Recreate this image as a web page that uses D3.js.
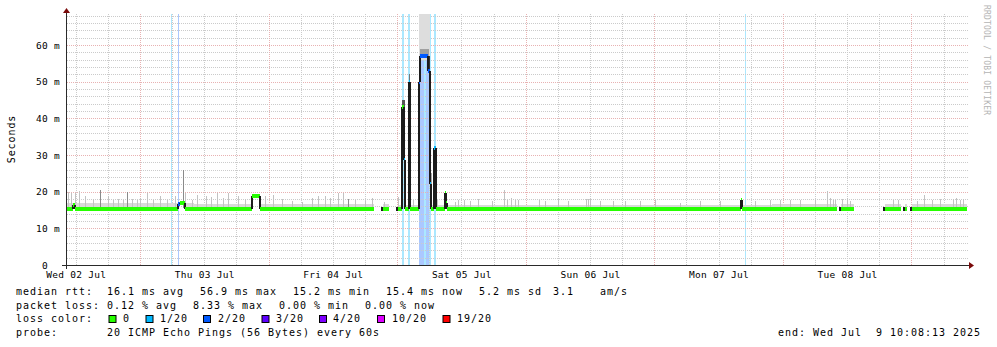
<!DOCTYPE html>
<html>
<head>
<meta charset="utf-8">
<script src="https://cdn.jsdelivr.net/npm/d3@7"></script>
<style>
  body { margin: 0; background: #fff; }
  svg text { font-family: "DejaVu Sans Mono", monospace; white-space: pre; }
</style>
</head>
<body>
<svg id="chart" width="997" height="347"></svg>
<script>
// all times are hours counted from Wed 02 Jul 00:00 (graph time)

// median rtt, stepped: each value holds until the next hour entry, null = no data
var medianHours = [-1.62, -0.45, -0.15, 19.1, 19.4, 20.4, 33.0, 34.4, 55.6, 57.4, 58.5, 60.2,
                   61.0, 61.2, 61.4, 62.2, 62.5, 64.1, 64.3, 65.8, 66.1, 66.4, 66.9, 67.2,
                   68.9, 69.1, 69.3, 124.2, 124.4, 142.1, 142.9, 145.3, 151.1, 154.1, 154.8,
                   155.2, 156.1, 166.4];
var medianMs = [15.2, 16.4, 15.2, 16.6, 17.0, 15.2, 18.8, 15.2, null, 15.2, null, 15.2,
                43, 28.5, 15.2, 50, 15.2, 50, 57, 53, 22, 15.2, 32, 15.2,
                19.5, 17, 15.2, 17.8, 15.2, null, 15.2, null, 15.2, null, 15.2,
                null, 15.2, null];
var medianLoss = [0, 0, 0, 2, 0, 0, 0, 0, 0, 0, 0, 0,
                  0, 1, 0, 1, 0, 2, 2, 2, 1, 0, 1, 0,
                  0, 0, 0, 0, 0, 0, 0, 0, 0, 0, 0,
                  0, 0, 0];

// full height loss background
var lossBandStart = [17.85, 19.25, 60.95, 62.2, 64.1, 65.1, 65.5, 66.1, 66.9, 125.05];
var lossBandEnd   = [18.05, 19.45, 61.4, 62.5, 65.1, 65.5, 66.1, 66.4, 67.2, 125.25];
var lossBandLevel = [1, 2, 1, 1, 2, 1, 2, 1, 1, 1];

// smoke close above the median, per stretch
var smokeBandHours = [-1.62, 22, 34.4, 60, 96, 130];
var smokeBandTop = [16.9, 16.7, 16.5, 16.3, 16.3, 16.6];

// single smoke spikes (top of the smoke), dark = dense smoke
var spikeHours = [-1.37, -0.87, -0.12, 0.68, 1.74, 3.29, 4.54, 6.04, 6.97, 7.9, 8.84, 9.53,
                  10.52, 11.45, 12.0, 13.26, 14.44, 15.74, 17.0, 18.54, 19.98, 20.41, 21.66,
                  22.6, 24.33, 25.26, 26.33, 27.5, 28.44, 30.3, 31.6, 35.34, 36.83, 38.51,
                  40.38, 42.24, 44.11, 45.23, 46.54, 47.47, 48.97, 49.9, 50.83, 52.14, 54.0,
                  55.3, 57.55, 60.16, 62.97, 67.4, 70.8, 71.35, 72.47, 73.59, 75.08, 77.7,
                  80.0, 80.5, 81.26, 82.0, 82.55, 86.47, 87.6, 90.03, 91.9, 95.3, 95.7, 96.0,
                  97.9, 100.3, 102.5, 105.3, 108.2, 112.8, 116.6, 120.3, 126.8, 129.6, 131.5,
                  133.4, 135.2, 138.0, 140.2, 140.8, 141.4, 141.8, 143.0, 144.0, 144.6, 152.6,
                  153.5, 157.1, 158.4, 159.9, 161.4, 163.8, 164.4, 165.1, 165.7];
var spikeTop = [20.0, 19.5, 19.5, 20.3, 18.9, 18.1, 20.5, 18.9, 17.8, 18.0, 17.6, 20.0,
                18.0, 17.8, 18.2, 19.5, 17.8, 18.9, 17.8, 18.9, 26.0, 19.5, 17.8,
                19.2, 18.9, 18.6, 19.5, 18.4, 19.5, 18.9, 18.1, 18.9, 19.2, 18.1,
                17.5, 17.1, 18.4, 18.9, 18.9, 18.4, 19.5, 19.5, 18.1, 17.8, 17.5,
                18.4, 17.3, 18.5, 17.8, 17.8, 17.3, 17.8, 17.8, 17.5, 18.1, 17.5,
                20.4, 17.6, 18.4, 17.8, 17.8, 17.8, 17.5, 18.4, 17.5, 18.1, 18.1, 18.1,
                17.5, 17.5, 17.5, 17.5, 17.8, 17.0, 17.5, 17.5, 17.5, 17.8, 17.8,
                17.6, 17.8, 17.6, 20.2, 18.4, 17.8, 17.8, 18.1, 18.4, 17.5, 17.8,
                17.6, 17.5, 19.0, 17.8, 18.1, 17.9, 18.4, 17.8, 18.1];
var spikeDark = [6, 11, 20, 42];

// wide smoke during the outage on Fri/Sat
var smokeSpanStart = [64.1, 64.3, 65.5, 66.1, 61.0, 62.2];
var smokeSpanEnd   = [66.1, 66.0, 66.1, 66.5, 61.4, 62.5];
var smokeSpanLow   = [56, 57, 53, 16, 40, 46];
var smokeSpanHigh  = [70, 58.8, 57, 25, 45, 52];
var smokeSpanShade = ["#dddddd", "#a0a0a0", "#333333", "#a8a8a8", "#555555", "#777777"];

var lossColors = ["#26ff00", "#00b8ff", "#0059ff", "#5e00ff", "#7e00ff", "#dd00ff", "#ff0000"];
var lossLabels = ["0", "1/20", "2/20", "3/20", "4/20", "10/20", "19/20"];

var yTicks = [0, 10, 20, 30, 40, 50, 60];

var statLabels = [
  [{x: 16, t: "median rtt:"}, {x: 107, t: "16.1 ms avg"}, {x: 200, t: "56.9 ms max"},
   {x: 293, t: "15.2 ms min"}, {x: 386, t: "15.4 ms now"}, {x: 479, t: "5.2 ms sd"},
   {x: 553, t: "3.1"}, {x: 600, t: "am/s"}],
  [{x: 16, t: "packet loss:"}, {x: 107, t: "0.12 % avg"}, {x: 193, t: "8.33 % max"},
   {x: 279, t: "0.00 % min"}, {x: 365, t: "0.00 % now"}],
  [{x: 16, t: "loss color:"}],
  [{x: 16, t: "probe:"}, {x: 107, t: "20 ICMP Echo Pings (56 Bytes) every 60s"},
   {x: 778, t: "end: Wed Jul  9 10:08:13 2025"}]
];

var svg = d3.select("#chart");
var plotTop = 14, plotBottom = 265, plotLeft = 67, plotRight = 967;

var start = new Date(Date.UTC(2025, 6, 1, 22, 23));
var end = new Date(Date.UTC(2025, 6, 8, 22, 23));
var x = d3.scaleUtc().domain([start, end]).range([plotLeft, plotRight]);
var y = d3.scaleLinear().domain([0, 68.45]).range([plotBottom, plotTop]);

function toDate(h) { return new Date(Date.UTC(2025, 6, 2) + h * 3600e3); }
function xh(h) { return x(toDate(h)); }

var minorGrid = "#cbcbcb", majorGrid = "#e8b2b2";

// loss background first
svg.append("g").selectAll("rect")
  .data(lossBandStart)
  .enter().append("rect")
  .attr("x", function(d) { return Math.floor(xh(d)); })
  .attr("width", function(d, i) { return Math.max(1, Math.round(xh(lossBandEnd[i]) - xh(d))); })
  .attr("y", plotTop)
  .attr("height", plotBottom - plotTop)
  .attr("fill", function(d, i) { return d3.interpolateRgb("#ffffff", lossColors[lossBandLevel[i]])(0.33); });

// grid
var grid = svg.append("g").attr("stroke-dasharray", "1,1").attr("shape-rendering", "crispEdges");
d3.range(2, 69, 2).forEach(function(v) {
  var yy = Math.round(y(v)) + 0.5;
  grid.append("line")
    .attr("x1", plotLeft).attr("x2", plotRight + 1)
    .attr("y1", yy).attr("y2", yy)
    .attr("stroke", v % 10 === 0 ? majorGrid : minorGrid);
});
d3.utcHour.every(6).range(start, end).forEach(function(t) {
  var xx = Math.round(x(t)) + 0.5;
  grid.append("line")
    .attr("x1", xx).attr("x2", xx)
    .attr("y1", plotTop).attr("y2", plotBottom)
    .attr("stroke", t.getUTCHours() === 12 ? majorGrid : minorGrid);
});

// smoke band right above the median
var smokeG = svg.append("g").attr("shape-rendering", "crispEdges");
for (var i = 0; i < medianHours.length - 1; i++) {
  var v = medianMs[i];
  if (v === null || v > 16) continue;
  for (var b = 0; b < smokeBandHours.length; b++) {
    var b0 = smokeBandHours[b], b1 = b + 1 < smokeBandHours.length ? smokeBandHours[b + 1] : 170;
    var s0 = Math.max(b0, medianHours[i]), s1 = Math.min(b1, medianHours[i + 1]);
    if (s1 <= s0) continue;
    smokeG.append("rect")
      .attr("x", xh(s0)).attr("width", xh(s1) - xh(s0))
      .attr("y", y(smokeBandTop[b])).attr("height", y(v) - y(smokeBandTop[b]))
      .attr("fill", "#d9d9d9");
  }
}

// spikes
smokeG.selectAll(".spike")
  .data(spikeHours)
  .enter().append("rect")
  .attr("class", "spike")
  .attr("x", function(d) { return Math.round(xh(d)); })
  .attr("width", 1)
  .attr("y", function(d, i) { return y(spikeTop[i]); })
  .attr("height", function(d, i) { return y(15.6) - y(spikeTop[i]); })
  .attr("fill", function(d, i) { return spikeDark.indexOf(i) >= 0 ? "#8a8a8a" : "#c2c2c2"; });

// wide smoke spans
smokeG.selectAll(".span")
  .data(smokeSpanStart)
  .enter().append("rect")
  .attr("class", "span")
  .attr("x", function(d) { return xh(d); })
  .attr("width", function(d, i) { return xh(smokeSpanEnd[i]) - xh(d); })
  .attr("y", function(d, i) { return Math.max(plotTop, y(smokeSpanHigh[i])); })
  .attr("height", function(d, i) { return y(smokeSpanLow[i]) - Math.max(plotTop, y(smokeSpanHigh[i])); })
  .attr("fill", function(d, i) { return smokeSpanShade[i]; });

// median line: flat parts in loss colour, jumps in dark
var med = svg.append("g").attr("shape-rendering", "crispEdges");
for (var j = 0; j < medianHours.length - 1; j++) {
  var m = medianMs[j];
  if (m === null) continue;
  var prev = j > 0 ? medianMs[j - 1] : null;
  if (prev !== null && j > 0) {
    med.append("line")
      .attr("x1", xh(medianHours[j])).attr("x2", xh(medianHours[j]))
      .attr("y1", y(prev)).attr("y2", y(m))
      .attr("stroke", "#1c1c1c").attr("stroke-width", 2);
  } else if (j > 0) {
    med.append("rect")
      .attr("x", xh(medianHours[j]) - 2).attr("y", y(m) - 2)
      .attr("width", 2).attr("height", 4).attr("fill", "#1c1c1c");
  }
  med.append("line")
    .attr("x1", xh(medianHours[j])).attr("x2", xh(medianHours[j + 1]))
    .attr("y1", y(m)).attr("y2", y(m))
    .attr("stroke", lossColors[medianLoss[j]]).attr("stroke-width", 4);
}

// axes
var xAxis = d3.axisBottom(x)
  .tickValues(d3.utcDay.range(d3.utcDay.ceil(start), end))
  .tickFormat(d3.utcFormat("%a %d %b"))
  .tickSize(0).tickPadding(6);
var gx = svg.append("g").attr("transform", "translate(0," + plotBottom + ")").call(xAxis);
gx.select(".domain").remove();
gx.selectAll("text").attr("font-family", "DejaVu Sans Mono").attr("font-size", 9.5)
  .attr("letter-spacing", 0.28).attr("fill", "#000");

var yAxis = d3.axisLeft(y)
  .tickValues(yTicks)
  .tickFormat(function(d) { return d === 0 ? "0" : d + " m"; })
  .tickSize(0).tickPadding(7);
var gy = svg.append("g").attr("transform", "translate(" + plotLeft + ",0)").call(yAxis);
gy.select(".domain").remove();
gy.selectAll("text").attr("font-family", "DejaVu Sans Mono").attr("font-size", 9.5)
  .attr("letter-spacing", 0.28).attr("fill", "#000")
  .attr("dx", function(d) { return d === 0 ? -12 : 0; });

var axisCol = "#2a2a2a", arrowCol = "#7a0a0a";
svg.append("line").attr("x1", 62).attr("x2", 969).attr("y1", 265.5).attr("y2", 265.5)
  .attr("stroke", axisCol);
svg.append("line").attr("x1", 66.5).attr("x2", 66.5).attr("y1", 12).attr("y2", 269)
  .attr("stroke", axisCol);
svg.append("path").attr("d", "M969,262L969,269L974,265.5Z").attr("fill", arrowCol);
svg.append("path").attr("d", "M63,13L70,13L66.5,8Z").attr("fill", arrowCol);

// titles
svg.append("text").attr("transform", "translate(15,139) rotate(-90)")
  .attr("text-anchor", "middle").attr("font-size", 10).attr("letter-spacing", 0.9)
  .text("Seconds");
svg.append("text").attr("transform", "translate(984,5) rotate(90)")
  .attr("font-size", 8).attr("letter-spacing", 0.2).attr("fill", "#b4b4b4")
  .text("RRDTOOL / TOBI OETIKER");

// legend
var rowBase = [295, 308.5, 322, 335.5];
var leg = svg.append("g");
statLabels.forEach(function(row, r) {
  row.forEach(function(s) {
    leg.append("text").attr("x", s.x).attr("y", rowBase[r])
      .attr("font-size", 10).attr("letter-spacing", 0.98).attr("fill", "#000")
      .text(s.t);
  });
});
var swatchX = [108.5, 145.5, 203, 261.5, 319, 377, 442.5];
var labelX = [123, 160, 218, 276, 333, 392, 457];
lossLabels.forEach(function(l, i) {
  leg.append("rect").attr("x", swatchX[i] + 0.5).attr("y", 315.5).attr("width", 7).attr("height", 7)
    .attr("fill", lossColors[i]).attr("stroke", "#000");
  leg.append("text").attr("x", labelX[i]).attr("y", rowBase[2])
    .attr("font-size", 10).attr("letter-spacing", 0.98).text(l);
});
</script>
</body>
</html>
